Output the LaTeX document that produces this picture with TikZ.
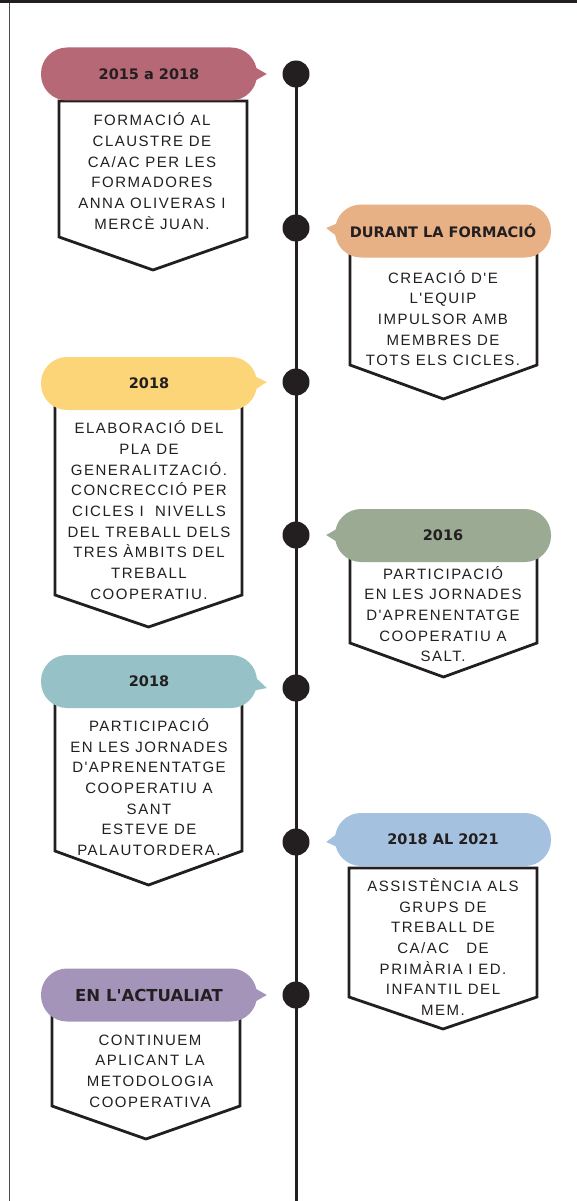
\documentclass[tikz,border=0pt]{standalone}
\usepackage{fontspec}
\usetikzlibrary{calc}
\newfontfamily\labelfam{DejaVu Sans}
\newfontfamily\bodyfam[LetterSpace=10]{Liberation Sans}
\definecolor{ink}{HTML}{231F20}
\definecolor{rosec}{HTML}{B76877}
\definecolor{peachc}{HTML}{E7B185}
\definecolor{yellowc}{HTML}{FCD578}
\definecolor{sagec}{HTML}{9BAA93}
\definecolor{tealc}{HTML}{95C1C7}
\definecolor{skyc}{HTML}{A4C2DF}
\definecolor{lilacc}{HTML}{A594BA}
\begin{document}
\begin{tikzpicture}[x=1pt, y=-1pt,
      every node/.append style={text=ink},
      bubble/.style={rounded corners=26pt, minimum width=216pt, minimum height=53pt, inner sep=0pt,
        font=\labelfam\bfseries\fontsize{14.5}{16}\selectfont},
      card/.style={draw=ink, line width=2.8pt, fill=white, line join=miter},
      body/.style={align=center, inner sep=0pt, font=\bodyfam\fontsize{15}{20.7}\selectfont},
      dot/.style={circle, fill=ink, minimum size=27pt, inner sep=0pt},
      spine/.style={ink, line width=3pt}]

    \useasboundingbox (0,0) rectangle (577,1201);
    \fill[ink] (0,0) rectangle (577,3.5);
    \draw[ink!80, line width=1pt] (9.5,3.5) -- (9.5,1201);

    % ---------------- timeline ----------------
    \foreach \i/\y in {1/74, 2/228, 3/382, 4/535, 5/688, 6/842, 7/995}
      \node[dot] (d\i) at (296,\y) {};
    \coordinate (end) at (296,1201);
    \draw[spine] (d1.center) -- (end);

    % ---------------- cards (left x, right x, top, side end, point) ----------------
    \foreach \l/\r/\t/\s/\p in {59/247/101/237/270, 350/537/250/365/399, 55/242/400/595/627,
        350/537/555/643/677, 55/242/700/851/885, 349/537/868/997/1029, 52/240/1015/1106/1139}
      \draw[card] (\l,\t) -- (\r,\t) -- (\r,\s) -- ({(\l+\r)/2},\p) -- (\l,\s) -- cycle;

    % ---------------- bubbles ----------------
    \node[bubble, fill=rosec]   (b1) at (149,74)    {2015 a 2018};
    \node[bubble, fill=peachc]  (b2) at (443,231)   {DURANT LA FORMACIÓ};
    \node[bubble, fill=yellowc] (b3) at (149,383.5) {2018};
    \node[bubble, fill=sagec]   (b4) at (443,535.5) {2016};
    \node[bubble, fill=tealc]   (b5) at (149,681.5) {2018};
    \node[bubble, fill=skyc]    (b6) at (443,839.5) {2018 AL 2021};
    \node[bubble, fill=lilacc, font=\labelfam\bfseries\fontsize{16.5}{18}\selectfont]
      (b7) at (149,995) {EN L'ACTUALIAT};

    % pointers towards the dots
    \foreach \b/\d/\c in {b1/d1/rosec, b3/d3/yellowc, b5/d5/tealc, b7/d7/lilacc}
      \fill[\c] ($(\b.east)+(-8,-10)$) -- ($(\d.west)+(-15.5,0)$) -- ($(\b.east)+(-8,10)$) -- cycle;
    \foreach \b/\d/\c in {b2/d2/peachc, b4/d4/sagec, b6/d6/skyc}
      \fill[\c] ($(\b.west)+(8,-10)$) -- ($(\d.east)+(16.5,0)$) -- ($(\b.west)+(8,10)$) -- cycle;

    % ---------------- card texts ----------------
    \node[body] (t1) at (152,171) {FORMACIÓ AL\\ CLAUSTRE DE\\ CA/AC PER LES\\ FORMADORES\\ ANNA OLIVERAS I\\ MERCÈ JUAN.};
    \node[body] (t2) at (443,318) {CREACIÓ D'E\\ L'EQUIP\\ IMPULSOR AMB\\ MEMBRES DE\\ TOTS ELS CICLES.};
    \node[body] (t3) at (149,510) {ELABORACIÓ DEL\\ PLA DE\\ GENERALITZACIÓ.\\ CONCRECCIÓ PER\\ CICLES I~ NIVELLS\\
      DEL TREBALL DELS\\ TRES ÀMBITS DEL\\ TREBALL\\ COOPERATIU.};
    \node[body] (t4) at (443,614) {PARTICIPACIÓ\\ EN LES JORNADES\\ D'APRENENTATGE\\ COOPERATIU A\\ SALT.};
    \node[body] (t5) at (149,787) {PARTICIPACIÓ\\ EN LES JORNADES\\ D'APRENENTATGE\\ COOPERATIU A\\ SANT\\
      ESTEVE DE\\ PALAUTORDERA.};
    \node[body] (t6) at (443,947) {ASSISTÈNCIA ALS\\ GRUPS DE\\ TREBALL DE\\ CA/AC~~ DE\\ PRIMÀRIA I ED.\\
      INFANTIL DEL\\ MEM.};
    \node[body] (t7) at (150,1071) {CONTINUEM\\ APLICANT LA\\ METODOLOGIA\\ COOPERATIVA};
  \end{tikzpicture}
\end{document}
